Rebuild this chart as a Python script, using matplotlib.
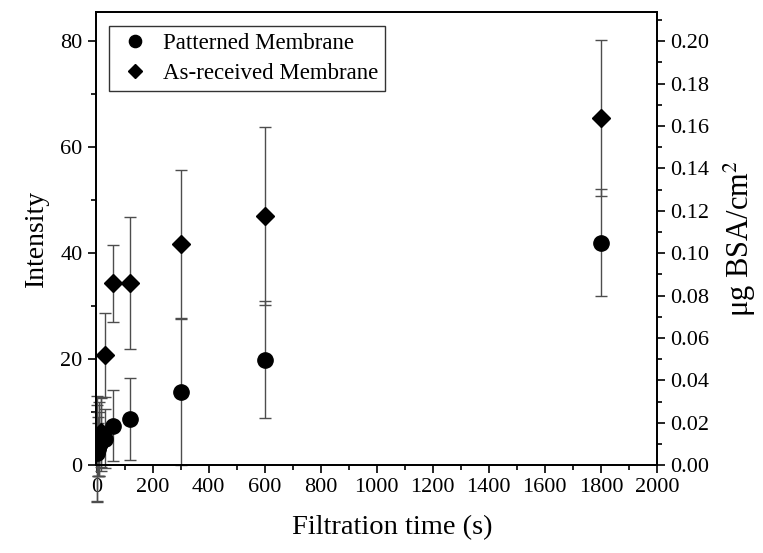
import numpy as np
import matplotlib
matplotlib.use("Agg")
import matplotlib.pyplot as plt
from matplotlib.ticker import MultipleLocator

plt.rcParams['font.family'] = ['Liberation Serif', 'DejaVu Serif']
plt.rcParams['mathtext.fontset'] = 'stix'

# data
time_s = [1, 5, 10, 15, 30, 60, 120, 300, 600, 1800]
patterned = [2.3, 3.0, 4.0, 5.8, 5.0, 7.4, 8.7, 13.8, 19.9, 42.0]
patterned_err = [9.0, 5.0, 6.0, 7.0, 5.5, 6.7, 7.7, 13.8, 11.0, 10.1]
as_received = [3.0, 3.5, 5.0, 6.2, 20.8, 34.3, 34.4, 41.7, 47.1, 65.5]
as_received_err = [10.0, 5.5, 7.0, 6.5, 8.0, 7.2, 12.4, 14.0, 16.8, 14.7]

ylim_int = (0, 85.5)
conv = 0.0025  # ug BSA/cm2 per intensity unit

fig = plt.figure(figsize=(7.63, 5.53), dpi=100)
ax = fig.add_axes([0.1254, 0.159, 0.7356, 0.819])

ebkw = dict(ecolor='0.3', elinewidth=1.0, capsize=4, capthick=1.0, clip_on=False, zorder=2)
ax.errorbar(time_s, patterned, yerr=patterned_err, fmt='none', **ebkw)
ax.errorbar(time_s, as_received, yerr=as_received_err, fmt='none', **ebkw)
h1, = ax.plot(time_s, patterned, 'o', color='black', markersize=11, linestyle='none',
              label='Patterned Membrane', zorder=3)
h2, = ax.plot(time_s, as_received, 'D', color='black', markersize=9, linestyle='none',
              label='As-received Membrane', zorder=3)

ax.set_xlim(-3, 2000)
ax.set_ylim(*ylim_int)
ax.xaxis.set_major_locator(MultipleLocator(200))
ax.xaxis.set_minor_locator(MultipleLocator(100))
ax.yaxis.set_major_locator(MultipleLocator(20))
ax.yaxis.set_minor_locator(MultipleLocator(10))
ax.tick_params(which='both', direction='out', labelsize=16, width=1.2, top=False, right=False)
ax.tick_params(which='major', length=6)
ax.tick_params(which='minor', length=3.5)
for s in ax.spines.values():
    s.set_linewidth(1.3)

ax.set_xlabel('Filtration time (s)', fontsize=20.5)
ax.xaxis.set_label_coords(0.528, -0.11)
ax.set_ylabel('Intensity', fontsize=20, labelpad=8)

ax2 = ax.twinx()
ax2.set_ylim(ylim_int[0] * conv, ylim_int[1] * conv)
ax2.yaxis.set_major_locator(MultipleLocator(0.02))
ax2.yaxis.set_minor_locator(MultipleLocator(0.01))
ax2.yaxis.set_major_formatter(plt.FormatStrFormatter('%.2f'))
ax2.tick_params(which='both', direction='out', labelsize=16, width=1.2)
ax2.tick_params(which='major', length=6)
ax2.tick_params(which='minor', length=3.5)
for s in ax2.spines.values():
    s.set_linewidth(1.3)
ax2.set_ylabel(r'μg BSA/cm$^2$', fontsize=22, labelpad=9)

leg = ax.legend(handles=[h1, h2], loc='upper left', fontsize=16.5, frameon=True,
                fancybox=False, edgecolor='black', borderaxespad=0.6, markerscale=0.8,
                handletextpad=0.45, borderpad=0.3, labelspacing=0.4, handlelength=1.6)
leg.get_frame().set_linewidth(1.0)

fig.savefig('out.png', dpi=100)
